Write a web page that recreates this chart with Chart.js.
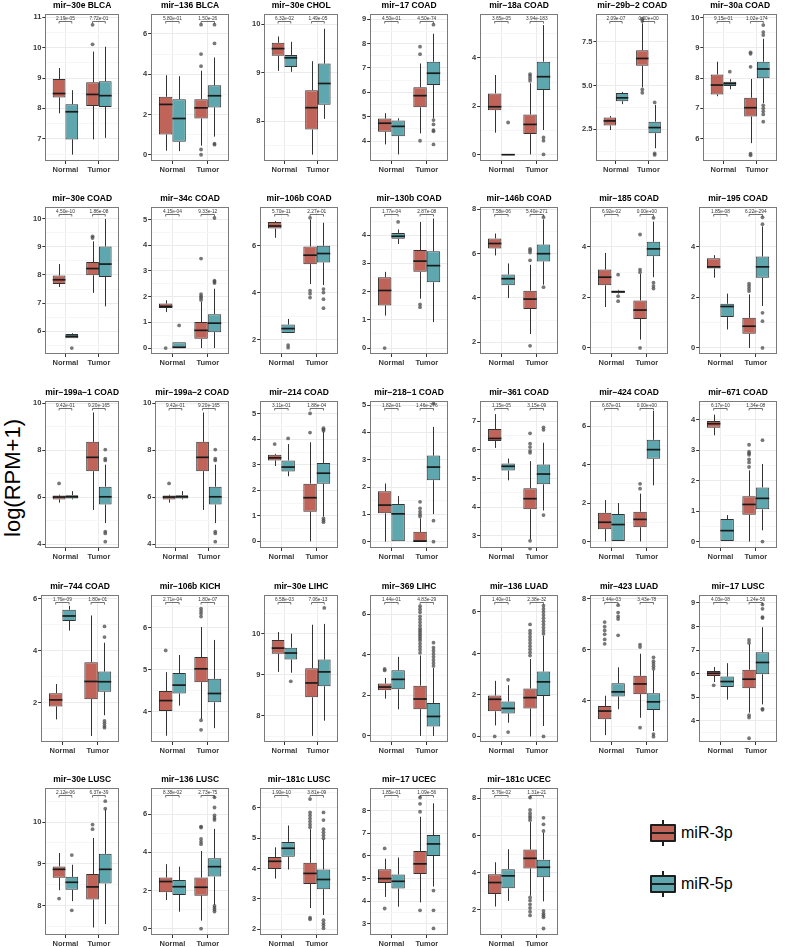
<!DOCTYPE html>
<html>
<head>
<meta charset="utf-8">
<script src="https://cdn.jsdelivr.net/npm/chart.js@4.4.1/dist/chart.umd.min.js"></script>
<style>
  html, body { margin: 0; padding: 0; background: #fff; }
  #page { position: relative; width: 789px; height: 947px; overflow: hidden; font-family: "Liberation Sans", Arial, sans-serif; }
  #page canvas { position: absolute; }
  #ylab { position: absolute; left: 13px; top: 478px; transform: translate(-50%, -50%) rotate(-90deg); font-size: 22px; white-space: nowrap; color: #000; }
  .glyph { position: absolute; left: 650px; width: 26px; height: 26px; }
  .glyph .wh { position: absolute; left: 12px; top: 0; width: 2px; height: 26px; background: #1e1e1e; }
  .glyph .bx { position: absolute; left: 0; top: 4px; width: 26px; height: 18px; box-sizing: border-box; border: 2.5px solid #1e1e1e; border-radius: 1px; }
  .glyph .md { position: absolute; left: 0; top: 12px; width: 26px; height: 2px; background: #1e1e1e; }
  .lab { position: absolute; left: 681px; font-size: 16px; line-height: 18px; color: #000; }
</style>
</head>
<body>
<div id="page">
  <div id="ylab">log(RPM+1)</div>
  <div class="glyph" style="top:820px"><div class="wh"></div><div class="bx" style="background:#c0645a"></div><div class="md"></div></div>
  <div class="lab" style="top:824px">miR-3p</div>
  <div class="glyph" style="top:871px"><div class="wh"></div><div class="bx" style="background:#5fa7ae"></div><div class="md"></div></div>
  <div class="lab" style="top:875px">miR-5p</div>
</div>
<script>
// panel titles, p-values and y ranges
const titles = ['mir−30e BLCA', 'mir−136 BLCA', 'mir−30e CHOL', 'mir−17 COAD', 'mir−18a COAD', 'mir−29b−2 COAD', 'mir−30a COAD',
  'mir−30e COAD', 'mir−34c COAD', 'mir−106b COAD', 'mir−130b COAD', 'mir−146b COAD', 'mir−185 COAD', 'mir−195 COAD',
  'mir−199a−1 COAD', 'mir−199a−2 COAD', 'mir−214 COAD', 'mir−218−1 COAD', 'mir−361 COAD', 'mir−424 COAD', 'mir−671 COAD',
  'mir−744 COAD', 'mir−106b KICH', 'mir−30e LIHC', 'mir−369 LIHC', 'mir−136 LUAD', 'mir−423 LUAD', 'mir−17 LUSC',
  'mir−30e LUSC', 'mir−136 LUSC', 'mir−181c LUSC', 'mir−17 UCEC', 'mir−181c UCEC'];
const pNormal = ['2.19e-05', '5.80e-01', '6.32e-02', '4.50e-01', '3.65e-05', '2.09e-07', '9.15e-01',
  '4.50e-10', '4.15e-04', '5.70e-11', '1.77e-04', '7.58e-06', '6.92e-02', '1.85e-08',
  '9.42e-01', '9.42e-01', '3.11e-01', '1.82e-01', '1.15e-05', '6.67e-01', '6.17e-10',
  '1.76e-09', '2.71e-04', '6.58e-03', '1.44e-01', '1.40e-01', '1.44e-03', '4.03e-08',
  '2.12e-06', '8.38e-02', '1.90e-10', '1.85e-01', '5.76e-02'];
const pTumor = ['7.72e-01', '1.50e-26', '1.49e-05', '4.50e-74', '3.94e-183', '0.00e+00', '1.02e-174',
  '1.86e-08', '9.33e-12', '2.27e-01', '2.87e-08', '5.40e-271', '0.00e+00', '6.22e-294',
  '9.20e-165', '9.20e-165', '1.88e-04', '1.46e-276', '3.15e-09', '0.00e+00', '1.34e-08',
  '1.80e-01', '1.80e-07', '7.06e-13', '4.83e-29', '2.38e-32', '3.43e-78', '1.24e-56',
  '6.37e-39', '2.73e-75', '3.81e-09', '1.09e-56', '1.31e-21'];
const yMin = [6.27, -0.31, 7.18, 3.18, -0.26, 0.69, 5.26,
  5.18, -0.23, 1.39, -0.21, 1.47, -0.24, -0.24,
  3.83, 3.83, -0.26, -0.23, 2.58, -0.34, -0.21,
  0.48, 3.27, 7.36, -0.3, -0.27, 2.39, 3.09,
  7.3, -0.33, 1.81, 2.51, 0.65];
const yMax = [11.1, 6.98, 10.21, 9.2, 5.8, 9.08, 10.11,
  10.42, 5.48, 7.63, 4.99, 8.1, 5.57, 5.57,
  10.08, 10.08, 5.49, 5.14, 7.7, 7.3, 4.61,
  6.13, 6.78, 10.94, 6.94, 6.81, 8.13, 9.33,
  10.81, 7.36, 6.65, 8.99, 8.54];
const yStep = [1, 2, 1, 1, 2, 2.5, 1,
  1, 1, 2, 1, 2, 2, 2,
  2, 2, 1, 1, 1, 2, 1,
  2, 1, 1, 2, 2, 2, 1,
  1, 2, 1, 1, 2];

// box stats: [lower whisker, q1, median, q3, upper whisker]
const normal3p = [[7.84,8.36,8.49,8.97,9.33],[0.2,1.01,2.5,2.88,3.95],[9.04,9.35,9.5,9.62,9.75],[3.86,4.38,4.73,4.92,5.14],[0.91,1.84,1.98,2.53,3.29],[2.46,2.72,2.98,3.17,3.26],[7.4,7.46,7.77,8.12,8.54],
  [7.57,7.68,7.83,7.98,8.39],[1.4,1.56,1.62,1.73,1.86],[6.33,6.72,6.83,7.0,7.04],[1.15,1.51,2.04,2.51,2.7],[5.92,6.24,6.46,6.69,6.91],[1.62,2.48,2.8,3.1,3.76],[2.78,3.14,3.21,3.55,3.67],
  [5.76,5.9,6.0,6.06,6.1],[5.76,5.9,6.0,6.06,6.1],[2.95,3.17,3.27,3.39,3.43],[0,1.04,1.34,1.85,2.13],[6.07,6.31,6.4,6.73,7.25],[0,0.64,1.0,1.49,2.15],[3.49,3.74,3.87,3.96,4.17],
  [1.35,1.85,2.1,2.36,2.71],[3.42,4.01,4.26,4.49,4.94],[9.07,9.51,9.65,9.85,10.04],[1.84,2.25,2.41,2.58,2.86],[0.53,1.21,1.79,1.97,2.68],[2.66,3.28,3.6,3.8,4.2],[5.64,5.9,6.01,6.11,6.28],
  [8.37,8.67,8.87,8.94,9.26],[1.5,1.91,2.47,2.68,3.38],[3.67,3.99,4.24,4.38,4.7],[4.19,4.81,5.0,5.41,5.88],[2.18,2.85,3.47,3.92,4.56]];
const normal5p = [[6.48,6.98,7.89,8.14,8.6],[0.18,0.64,1.8,2.76,3.9],[9.02,9.12,9.31,9.37,9.64],[3.45,4.2,4.6,4.84,4.93],[0,0,0,0,0],[3.94,4.11,4.3,4.58,4.64],[7.63,7.74,7.82,7.88,7.96],
  [5.74,5.74,5.81,5.89,5.92],[0,0,0.03,0.23,0.23],[2.28,2.28,2.47,2.64,2.88],[3.69,3.87,3.96,4.08,4.2],[4.0,4.57,4.87,5.06,5.56],[2.15,2.18,2.22,2.27,2.3],[0.73,1.22,1.64,1.75,2.15],
  [5.9,5.94,6.01,6.08,6.25],[5.9,5.94,6.01,6.08,6.25],[2.55,2.74,2.91,3.17,3.81],[0,0,1.02,1.38,1.67],[4.94,5.28,5.43,5.53,5.7],[0,0,0.88,1.43,2.0],[0,0,0.36,0.74,0.87],
  [4.77,5.14,5.33,5.57,5.72],[4.14,4.43,4.63,4.92,5.35],[9.05,9.37,9.53,9.66,10.0],[1.31,2.3,2.79,3.24,3.9],[0.66,1.11,1.35,1.68,2.47],[3.67,4.17,4.35,4.69,5.31],[4.89,5.43,5.66,5.87,6.44],
  [8.11,8.38,8.56,8.69,8.98],[0.89,1.77,2.2,2.55,3.25],[3.97,4.39,4.67,4.88,5.42],[3.76,4.56,4.88,5.18,5.93],[2.48,3.16,3.83,4.19,5.26]];
const tumor3p = [[6.98,8.08,8.46,8.86,9.87],[0.45,1.8,2.33,2.76,4.17],[7.31,7.83,8.28,8.64,9.24],[4.31,5.38,5.86,6.2,7.18],[0.01,0.85,1.25,1.66,2.95],[4.9,6.13,6.55,7.02,8.55],[5.85,6.73,7.02,7.35,7.97],
  [7.36,7.99,8.23,8.46,9.2],[0,0.36,0.69,1.01,1.8],[4.36,5.21,5.59,5.96,7.1],[1.75,2.7,3.08,3.47,4.47],[2.37,3.5,3.95,4.33,5.5],[0.33,1.15,1.5,1.88,2.93],[0,0.56,0.86,1.19,2.12],
  [5.45,7.1,7.69,8.35,9.6],[5.45,7.1,7.69,8.35,9.6],[0,1.16,1.71,2.26,3.88],[0,0,0.02,0.36,0.85],[2.87,3.93,4.3,4.66,5.61],[0,0.74,1.15,1.55,2.49],[0,0.88,1.22,1.49,2.34],
  [0.71,2.13,2.81,3.55,5.35],[3.82,4.7,5.02,5.3,6.02],[7.51,8.45,8.8,9.16,10.22],[0,1.32,1.82,2.48,3.97],[0,1.35,1.87,2.31,3.73],[3.34,4.26,4.66,4.98,5.84],[4.34,5.38,5.76,6.16,7.25],
  [7.48,8.15,8.45,8.76,9.62],[0.42,1.73,2.17,2.68,4.07],[2.7,3.49,3.84,4.19,5.3],[3.95,5.2,5.65,6.22,7.73],[2.76,4.23,4.77,5.24,6.72]];
const tumor5p = [[7.03,8.05,8.42,8.89,10.03],[0.9,2.35,2.93,3.45,4.83],[8.05,8.34,8.78,9.19,9.91],[4.93,6.3,6.78,7.25,8.4],[1.02,2.67,3.22,3.84,5.35],[1.42,2.28,2.6,2.94,3.9],[7.17,7.99,8.3,8.54,9.3],
  [6.88,7.93,8.39,9.02,10.0],[0,0.62,0.97,1.32,2.31],[4.32,5.28,5.66,5.99,6.97],[0.92,2.33,2.92,3.43,4.59],[4.6,5.65,6.0,6.41,7.55],[2.8,3.63,3.92,4.2,5.0],[1.66,2.78,3.21,3.62,4.81],
  [4.89,5.68,6.01,6.44,7.38],[4.89,5.68,6.01,6.44,7.38],[0.97,2.26,2.67,3.07,4.3],[1.01,2.25,2.73,3.15,4.2],[3.89,4.8,5.16,5.49,6.25],[2.92,4.3,4.78,5.29,6.79],[0.37,1.06,1.42,1.78,2.55],
  [1.51,2.41,2.8,3.19,4.3],[3.6,4.22,4.43,4.78,5.71],[7.88,8.72,9.07,9.37,10.24],[0,0.46,0.96,1.62,3.35],[0.5,1.95,2.63,3.13,4.85],[2.82,3.64,3.96,4.3,5.2],[4.69,5.97,6.47,6.9,7.97],
  [7.56,8.53,8.87,9.24,10.3],[1.24,2.73,3.25,3.69,5.23],[2.47,3.32,3.64,3.97,4.97],[4.65,6.0,6.53,6.92,8.32],[2.46,3.75,4.29,4.7,6.15]];

// outliers
const normal3pOut = [[],[],[],[],[],[],[],
  [],[0],[],[0],[],[],[],
  [6.58],[6.58],[3.81],[],[],[],[],
  [],[5.46],[],[3.23,3.3],[0],[6.23,6.4,6.6,6.75,6.9,7.08],[5.5],
  [8.17],[],[],[6.33,3.68],[]];
const normal5pOut = [[],[],[],[],[1.33],[],[8.21],
  [5.39],[0.88],[1.77,1.66],[4.47],[],[2.9,2.05,1.85],[],
  [],[],[4.03],[],[],[],[],
  [],[],[8.84],[],[2.73,0.21],[7.74,7.45,7.3,7.2,6.56],[],
  [9.21,7.89],[],[],[],[]];
const tumor3pOut = [[10.11,10.75],[6.46,5.0,4.4,0.26,0],[],[7.87,7.56,4.01],[3.05,3.15,3.25,3.33],[8.7,8.82,4.78,4.59],[8.8,8.85,8.37,5.5,5.45],
  [9.32,9.38],[1.87,1.95,2.02,2.1,3.48],[7.18,4.08,3.95,3.79],[1.45,1.55],[5.7,6.05,6.15,6.22,1.84],[3.0,3.1,4.49,0],[2.25,2.35,2.45,2.54],
  [],[],[4.26,5.01],[0.92,1.0,1.1,1.22,1.46],[6.58,6.22,6.1,5.97,5.9,2.83,2.56],[2.75,3.0],[2.45,2.6,2.7,2.85,2.9,2.95,3.18],
  [],[6.27,6.34,6.4,6.46,3.79,3.56],[],[4.1,4.25,4.4,4.55,4.7,4.8,4.9,5.0,5.1,5.2,5.3,5.45,5.6,5.75,5.9,6.1,6.25,6.4],[3.9,4.05,4.2,4.35,4.5,4.65,4.8,4.95,5.1,5.4],[6.1,6.2,2.95],[7.3,7.43,4.23,4.13,3.25],
  [9.83,9.94],[4.43,4.55,4.7,5.3,5.35,0],[5.36,5.45,5.55,5.65,5.75,5.85,6.29,2.38,2.33],[7.95,8.3,8.58,3.6],[6.82,6.95,7.05,7.2,7.37,8.04,2.67,2.5,2.3,2.1,1.9,1.7]];
const tumor5pOut = [[],[6.46,5.53,0.55,0.5],[],[8.77,4.86,4.68,4.45,4.4,3.86],[0.71,0.58,0.01],[4.04,1.13,1.04],[9.75,9.52,9.42,7.1,7.0,6.9,6.8,6.56],
  [],[2.53,2.58,2.62,5.06],[4.15,4.0,3.72,3.34],[],[7.65,4.49],[5.15,2.58,2.45,2.35],[4.9,5.17,1.39,1.06,0],
  [8.02,7.63,7.56,4.53,4.45,4.1],[8.02,7.63,7.56,4.53,4.45,4.1],[4.33,4.38,4.43,0.9,0.82,0.75],[5.05,0.77,0],[6.79,6.7,3.73],[],[3.33,0],
  [4.93,4.52,1.29,1.2,1.1,1.03],[],[10.63],[3.45,3.6,3.75,3.9,4.05,4.2,4.35,4.6],[4.95,5.1,5.25,5.4,5.55,5.7,5.85,6.0,6.15,6.3,0],[5.25,5.35,5.45,5.55,5.7,2.7,2.6],[8.36,8.4,8.75,8.93,4.5,4.46],
  [10.32,10.5],[5.7,5.8,5.93,6.35,6.88,1.2,1.1,1.0,0.9],[5.0,5.1,5.2,5.3,5.6,5.85,2.3,2.2,2.12,2.03],[4.47,3.6,2.8],[6.24,6.6,6.95,1.95,1.8,1.7,1.6,1.0]];

const groups = ['Normal', 'Tumor'];
const seriesNames = ['miR-3p', 'miR-5p'];
const colors = ['#c0645a', '#5fa7ae'];

// where each panel's plot area sits on the page
const rights = [119, 228.7, 338.4, 448.1, 557.8, 667.5, 777.2];
const tops = [14, 207.5, 401, 595, 788.5];
const plotH = 146.7;
const FAMILY = '"Liberation Sans", Arial, sans-serif';

Chart.defaults.font.family = FAMILY;

function isMajor(v, step) {
  const r = v / step;
  return Math.abs(r - Math.round(r)) < 1e-6;
}
function fmtTick(v, step) {
  return step % 1 ? v.toFixed(1) : String(Math.round(v));
}

// whiskers, medians, outliers, p-value brackets, panel border
const boxPlugin = {
  id: 'boxes',
  afterDatasetsDraw(chart) {
    const ctx = chart.ctx, ys = chart.scales.y, area = chart.chartArea;
    const py = v => ys.getPixelForValue(v);
    ctx.save();
    chart.data.datasets.forEach((ds, d) => {
      chart.getDatasetMeta(d).data.forEach((bar, k) => {
        const s = ds.stats[k];
        const x = Math.round(bar.x) + 0.5, hw = bar.width / 2;
        ctx.strokeStyle = '#333';
        ctx.lineWidth = 1;
        ctx.beginPath();
        ctx.moveTo(x, py(s[3])); ctx.lineTo(x, py(s[4]));
        ctx.moveTo(x, py(s[1])); ctx.lineTo(x, py(s[0]));
        ctx.stroke();
        ctx.strokeStyle = '#1a1a1a';
        ctx.lineWidth = 1.7;
        ctx.beginPath();
        ctx.moveTo(bar.x - hw, py(s[2])); ctx.lineTo(bar.x + hw, py(s[2]));
        ctx.stroke();
        ctx.fillStyle = 'rgba(75,75,75,0.75)';
        ds.outliers[k].forEach(v => {
          ctx.beginPath();
          ctx.arc(bar.x, py(v), 1.9, 0, Math.PI * 2);
          ctx.fill();
        });
      });
    });
    const m0 = chart.getDatasetMeta(0).data, m1 = chart.getDatasetMeta(1).data;
    const by = Math.round(area.top + 7) + 0.5;
    m0.forEach((b0, k) => {
      const xa = b0.x, xb = m1[k].x;
      ctx.strokeStyle = '#333';
      ctx.lineWidth = 0.7;
      ctx.beginPath();
      ctx.moveTo(xa, by + 2); ctx.lineTo(xa, by); ctx.lineTo(xb, by); ctx.lineTo(xb, by + 2);
      ctx.stroke();
      ctx.fillStyle = '#333';
      ctx.font = '4.8px ' + FAMILY;
      ctx.textAlign = 'center';
      ctx.textBaseline = 'alphabetic';
      ctx.fillText(chart.data.pvals[k], (xa + xb) / 2, by - 1.3);
    });
    ctx.restore();
  },
  afterDraw(chart) {
    const a = chart.chartArea, ctx = chart.ctx;
    ctx.save();
    ctx.strokeStyle = '#7a7a7a';
    ctx.lineWidth = 1;
    ctx.strokeRect(Math.round(a.left) + 0.5, Math.round(a.top) + 0.5, Math.round(a.right - a.left) - 1, Math.round(a.bottom - a.top) - 1);
    ctx.restore();
  }
};

const page = document.getElementById('page');

titles.forEach((title, i) => {
  const col = i % 7, row = Math.floor(i / 7);
  const step = yStep[i];
  const canvas = document.createElement('canvas');
  canvas.width = 88;
  canvas.height = 176;
  page.appendChild(canvas);

  const stats = [[normal3p[i], tumor3p[i]], [normal5p[i], tumor5p[i]]];
  const outs = [[normal3pOut[i], tumor3pOut[i]], [normal5pOut[i], tumor5pOut[i]]];

  const chart = new Chart(canvas, {
    type: 'bar',
    data: {
      pvals: [pNormal[i], pTumor[i]],
      datasets: seriesNames.map((name, d) => ({
        label: name,
        data: stats[d].map((s, k) => ({ x: k + 1, y: [s[1], s[3]] })),
        stats: stats[d],
        outliers: outs[d],
        backgroundColor: colors[d],
        borderColor: '#333',
        borderWidth: 1,
        borderSkipped: false,
        categoryPercentage: 0.76,
        barPercentage: 1
      }))
    },
    options: {
      responsive: false,
      maintainAspectRatio: false,
      animation: false,
      devicePixelRatio: 1,
      layout: { padding: { top: 0, right: 1, bottom: 1, left: 0 } },
      plugins: {
        legend: { display: false },
        tooltip: { enabled: false },
        title: {
          display: true, text: title, color: '#000', fullSize: false,
          font: { size: 8.5, weight: 'bold' },
          padding: { top: 0, bottom: 3 }
        }
      },
      scales: {
        x: {
          type: 'linear', min: 0.4, max: 2.6, offset: false,
          afterBuildTicks: s => { s.ticks = groups.map((g, k) => ({ value: k + 1 })); },
          ticks: {
            callback: v => groups[Math.round(v) - 1],
            font: { size: 7.5, weight: 'bold' }, color: '#3a3a3a',
            padding: 1, maxRotation: 0, autoSkip: false
          },
          grid: { offset: false, color: '#ebebeb', tickColor: '#333', tickLength: 3 },
          border: { display: false }
        },
        y: {
          type: 'linear', min: yMin[i], max: yMax[i],
          afterBuildTicks: s => {
            const h = step / 2, t = [];
            for (let v = Math.ceil(s.min / h - 1e-9) * h; v <= s.max + 1e-9; v += h) t.push({ value: +v.toFixed(4) });
            s.ticks = t;
          },
          ticks: {
            autoSkip: false,
            callback: v => isMajor(v, step) ? fmtTick(v, step) : '',
            font: { size: 7.5, weight: 'bold' }, color: '#3a3a3a', padding: 1
          },
          grid: {
            color: c => (c.tick && isMajor(c.tick.value, step)) ? '#ebebeb' : '#f6f6f6',
            tickColor: c => (c.tick && isMajor(c.tick.value, step)) ? '#333' : 'rgba(0,0,0,0)',
            tickLength: 3
          },
          border: { display: false }
        }
      }
    },
    plugins: [boxPlugin]
  });

  let area = chart.chartArea;
  const dh = plotH - (area.bottom - area.top);
  if (Math.abs(dh) > 0.5) {
    chart.resize(88, Math.round(176 + dh));
    area = chart.chartArea;
  }
  canvas.style.left = Math.round(rights[col] - area.right) + 'px';
  canvas.style.top = Math.round(tops[row] - area.top) + 'px';
});
</script>
</body>
</html>
